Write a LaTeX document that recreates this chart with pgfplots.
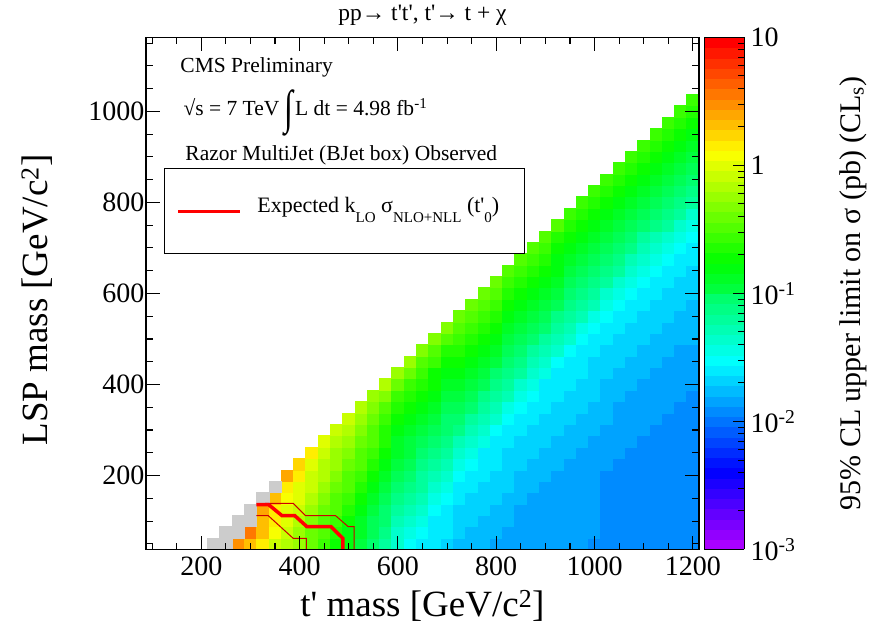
\documentclass[border=0pt]{standalone}
\usepackage{pgfplots}
\pgfplotsset{compat=1.18}
\usepackage{pgfplotstable}
\usepackage{graphicx}
\usepackage{fontspec}
\setmainfont{Liberation Serif}[Ligatures=TeXOff]

% one 25 GeV x 25 GeV bin of the scan
\pgfdeclareplotmark{cell}{%
  \pgfpathrectangle{\pgfpoint{-6.145bp}{-5.69bp}}{\pgfpoint{12.29bp}{11.38bp}}%
  \pgfusepathqfillstroke}

\newcommand\rsub[1]{\raisebox{-0.42em}{\fontsize{15bp}{15bp}\selectfont #1}}
\newcommand\bigint{\raisebox{-0.36em}{\scalebox{1.5}[2.2]{\textbf{∫}}}}

% rainbow palette, 50 discrete levels
\pgfplotsset{colormap={rootpal}{rgb255(0cm)=(170,0,255) rgb255(2cm)=(0,0,255)
  rgb255(5cm)=(0,255,255) rgb255(8cm)=(0,255,0) rgb255(11cm)=(255,255,0)
  rgb255(14cm)=(255,0,0)}}
\pgfplotsset{colormap={rootpalfifty}{samples of colormap=(51 of rootpal)}}

% observed 95% CL upper limit, log10(sigma/pb), per (t' mass, LSP mass) bin
\pgfplotstableread{
mt mlsp lg
275 50 0.52
300 50 0.35
300 75 0.55
325 50 0.15
325 75 0.30
325 100 0.35
325 125 0.38
350 50 -0.03
350 75 0.13
350 100 0.20
350 125 0.15
350 150 0.32
375 50 -0.15
375 75 -0.03
375 100 0.02
375 125 0.04
375 150 0.08
375 175 0.14
375 200 0.41
400 50 -0.25
400 75 -0.18
400 100 -0.11
400 125 -0.06
400 150 -0.01
400 175 0.04
400 200 0.14
400 225 0.25
425 50 -0.40
425 75 -0.34
425 100 -0.27
425 125 -0.21
425 150 -0.16
425 175 -0.09
425 200 -0.03
425 225 0.04
425 250 0.14
450 50 -0.54
450 75 -0.48
450 100 -0.42
450 125 -0.36
450 150 -0.29
450 175 -0.22
450 200 -0.17
450 225 -0.11
450 250 -0.04
450 275 0.04
475 50 -0.66
475 75 -0.60
475 100 -0.54
475 125 -0.48
475 150 -0.43
475 175 -0.36
475 200 -0.30
475 225 -0.23
475 250 -0.18
475 275 -0.11
475 300 -0.03
500 50 -0.78
500 75 -0.73
500 100 -0.67
500 125 -0.60
500 150 -0.54
500 175 -0.47
500 200 -0.42
500 225 -0.35
500 250 -0.29
500 275 -0.22
500 300 -0.16
500 325 -0.08
525 50 -0.93
525 75 -0.87
525 100 -0.81
525 125 -0.74
525 150 -0.69
525 175 -0.62
525 200 -0.55
525 225 -0.49
525 250 -0.43
525 275 -0.37
525 300 -0.30
525 325 -0.23
525 350 -0.15
550 50 -1.07
550 75 -1.02
550 100 -0.97
550 125 -0.90
550 150 -0.83
550 175 -0.76
550 200 -0.70
550 225 -0.63
550 250 -0.56
550 275 -0.49
550 300 -0.43
550 325 -0.37
550 350 -0.29
550 375 -0.21
575 50 -1.25
575 75 -1.18
575 100 -1.11
575 125 -1.04
575 150 -0.98
575 175 -0.91
575 200 -0.84
575 225 -0.77
575 250 -0.71
575 275 -0.64
575 300 -0.57
575 325 -0.50
575 350 -0.42
575 375 -0.30
575 400 -0.16
600 50 -1.43
600 75 -1.36
600 100 -1.29
600 125 -1.23
600 150 -1.16
600 175 -1.08
600 200 -1.01
600 225 -0.95
600 250 -0.88
600 275 -0.81
600 300 -0.74
600 325 -0.67
600 350 -0.60
600 375 -0.51
600 400 -0.40
600 425 -0.25
625 50 -1.53
625 75 -1.46
625 100 -1.38
625 125 -1.31
625 150 -1.25
625 175 -1.17
625 200 -1.10
625 225 -1.03
625 250 -0.96
625 275 -0.89
625 300 -0.81
625 325 -0.74
625 350 -0.67
625 375 -0.60
625 400 -0.51
625 425 -0.40
625 450 -0.25
650 50 -1.61
650 75 -1.56
650 100 -1.49
650 125 -1.41
650 150 -1.34
650 175 -1.27
650 200 -1.20
650 225 -1.13
650 250 -1.05
650 275 -0.98
650 300 -0.91
650 325 -0.84
650 350 -0.76
650 375 -0.69
650 400 -0.62
650 425 -0.53
650 450 -0.42
650 475 -0.27
675 50 -1.64
675 75 -1.62
675 100 -1.59
675 125 -1.52
675 150 -1.44
675 175 -1.37
675 200 -1.30
675 225 -1.23
675 250 -1.15
675 275 -1.08
675 300 -1.01
675 325 -0.94
675 350 -0.87
675 375 -0.79
675 400 -0.72
675 425 -0.65
675 450 -0.56
675 475 -0.45
675 500 -0.30
700 50 -1.67
700 75 -1.65
700 100 -1.63
700 125 -1.61
700 150 -1.55
700 175 -1.47
700 200 -1.40
700 225 -1.33
700 250 -1.26
700 275 -1.18
700 300 -1.11
700 325 -1.04
700 350 -0.97
700 375 -0.89
700 400 -0.82
700 425 -0.75
700 450 -0.68
700 475 -0.59
700 500 -0.47
700 525 -0.33
725 50 -1.75
725 75 -1.72
725 100 -1.70
725 125 -1.67
725 150 -1.64
725 175 -1.62
725 200 -1.56
725 225 -1.47
725 250 -1.37
725 275 -1.28
725 300 -1.18
725 325 -1.08
725 350 -0.99
725 375 -0.89
725 400 -0.81
725 425 -0.74
725 450 -0.66
725 475 -0.58
725 500 -0.50
725 525 -0.43
725 550 -0.35
750 50 -1.78
750 75 -1.75
750 100 -1.73
750 125 -1.70
750 150 -1.68
750 175 -1.65
750 200 -1.62
750 225 -1.58
750 250 -1.49
750 275 -1.39
750 300 -1.29
750 325 -1.20
750 350 -1.10
750 375 -1.01
750 400 -0.91
750 425 -0.83
750 450 -0.75
750 475 -0.68
750 500 -0.60
750 525 -0.52
750 550 -0.45
750 575 -0.37
775 50 -1.81
775 75 -1.79
775 100 -1.76
775 125 -1.73
775 150 -1.71
775 175 -1.68
775 200 -1.66
775 225 -1.63
775 250 -1.60
775 275 -1.51
775 300 -1.41
775 325 -1.31
775 350 -1.22
775 375 -1.12
775 400 -1.02
775 425 -0.93
775 450 -0.85
775 475 -0.77
775 500 -0.70
775 525 -0.62
775 550 -0.54
775 575 -0.47
775 600 -0.39
800 50 -1.84
800 75 -1.82
800 100 -1.79
800 125 -1.77
800 150 -1.74
800 175 -1.71
800 200 -1.69
800 225 -1.66
800 250 -1.64
800 275 -1.61
800 300 -1.52
800 325 -1.43
800 350 -1.33
800 375 -1.24
800 400 -1.14
800 425 -1.04
800 450 -0.95
800 475 -0.87
800 500 -0.79
800 525 -0.72
800 550 -0.64
800 575 -0.56
800 600 -0.48
800 625 -0.41
825 50 -1.87
825 75 -1.85
825 100 -1.82
825 125 -1.80
825 150 -1.77
825 175 -1.74
825 200 -1.72
825 225 -1.69
825 250 -1.67
825 275 -1.64
825 300 -1.61
825 325 -1.54
825 350 -1.45
825 375 -1.35
825 400 -1.26
825 425 -1.16
825 450 -1.06
825 475 -0.97
825 500 -0.89
825 525 -0.81
825 550 -0.74
825 575 -0.66
825 600 -0.58
825 625 -0.50
825 650 -0.43
850 50 -1.89
850 75 -1.88
850 100 -1.85
850 125 -1.83
850 150 -1.80
850 175 -1.78
850 200 -1.75
850 225 -1.72
850 250 -1.70
850 275 -1.67
850 300 -1.65
850 325 -1.62
850 350 -1.56
850 375 -1.47
850 400 -1.37
850 425 -1.27
850 450 -1.18
850 475 -1.08
850 500 -0.99
850 525 -0.91
850 550 -0.83
850 575 -0.75
850 600 -0.68
850 625 -0.60
850 650 -0.52
850 675 -0.45
875 50 -1.89
875 75 -1.89
875 100 -1.89
875 125 -1.86
875 150 -1.83
875 175 -1.81
875 200 -1.78
875 225 -1.75
875 250 -1.73
875 275 -1.70
875 300 -1.68
875 325 -1.65
875 350 -1.62
875 375 -1.58
875 400 -1.49
875 425 -1.39
875 450 -1.29
875 475 -1.20
875 500 -1.10
875 525 -1.01
875 550 -0.93
875 575 -0.85
875 600 -0.77
875 625 -0.70
875 650 -0.62
875 675 -0.54
875 700 -0.47
900 50 -1.89
900 75 -1.89
900 100 -1.89
900 125 -1.89
900 150 -1.86
900 175 -1.84
900 200 -1.81
900 225 -1.78
900 250 -1.76
900 275 -1.73
900 300 -1.70
900 325 -1.68
900 350 -1.65
900 375 -1.63
900 400 -1.59
900 425 -1.50
900 450 -1.40
900 475 -1.30
900 500 -1.21
900 525 -1.11
900 550 -1.02
900 575 -0.94
900 600 -0.86
900 625 -0.78
900 650 -0.71
900 675 -0.63
900 700 -0.55
900 725 -0.48
925 50 -1.89
925 75 -1.89
925 100 -1.89
925 125 -1.89
925 150 -1.89
925 175 -1.87
925 200 -1.84
925 225 -1.81
925 250 -1.79
925 275 -1.76
925 300 -1.74
925 325 -1.71
925 350 -1.68
925 375 -1.66
925 400 -1.63
925 425 -1.61
925 450 -1.52
925 475 -1.42
925 500 -1.32
925 525 -1.23
925 550 -1.13
925 575 -1.03
925 600 -0.96
925 625 -0.88
925 650 -0.80
925 675 -0.73
925 700 -0.65
925 725 -0.57
925 750 -0.49
950 50 -1.89
950 75 -1.89
950 100 -1.89
950 125 -1.89
950 150 -1.89
950 175 -1.89
950 200 -1.87
950 225 -1.84
950 250 -1.82
950 275 -1.79
950 300 -1.76
950 325 -1.74
950 350 -1.71
950 375 -1.69
950 400 -1.66
950 425 -1.63
950 450 -1.61
950 475 -1.53
950 500 -1.43
950 525 -1.33
950 550 -1.24
950 575 -1.14
950 600 -1.04
950 625 -0.97
950 650 -0.89
950 675 -0.81
950 700 -0.74
950 725 -0.66
950 750 -0.58
950 775 -0.50
975 50 -1.89
975 75 -1.89
975 100 -1.89
975 125 -1.89
975 150 -1.89
975 175 -1.89
975 200 -1.89
975 225 -1.87
975 250 -1.85
975 275 -1.82
975 300 -1.79
975 325 -1.77
975 350 -1.74
975 375 -1.72
975 400 -1.69
975 425 -1.66
975 450 -1.64
975 475 -1.61
975 500 -1.54
975 525 -1.44
975 550 -1.34
975 575 -1.25
975 600 -1.15
975 625 -1.05
975 650 -0.98
975 675 -0.90
975 700 -0.82
975 725 -0.74
975 750 -0.67
975 775 -0.59
975 800 -0.51
1000 50 -1.97
1000 75 -1.89
1000 100 -1.89
1000 125 -1.89
1000 150 -1.89
1000 175 -1.89
1000 200 -1.89
1000 225 -1.89
1000 250 -1.87
1000 275 -1.85
1000 300 -1.82
1000 325 -1.80
1000 350 -1.77
1000 375 -1.74
1000 400 -1.72
1000 425 -1.69
1000 450 -1.67
1000 475 -1.64
1000 500 -1.61
1000 525 -1.55
1000 550 -1.45
1000 575 -1.35
1000 600 -1.26
1000 625 -1.16
1000 650 -1.06
1000 675 -0.99
1000 700 -0.91
1000 725 -0.83
1000 750 -0.75
1000 775 -0.68
1000 800 -0.60
1000 825 -0.52
1025 50 -1.97
1025 75 -1.97
1025 100 -1.97
1025 125 -1.97
1025 150 -1.97
1025 175 -1.97
1025 200 -1.97
1025 225 -1.89
1025 250 -1.89
1025 275 -1.88
1025 300 -1.85
1025 325 -1.82
1025 350 -1.80
1025 375 -1.77
1025 400 -1.75
1025 425 -1.72
1025 450 -1.69
1025 475 -1.67
1025 500 -1.64
1025 525 -1.62
1025 550 -1.56
1025 575 -1.46
1025 600 -1.36
1025 625 -1.27
1025 650 -1.17
1025 675 -1.07
1025 700 -1.00
1025 725 -0.92
1025 750 -0.84
1025 775 -0.76
1025 800 -0.69
1025 825 -0.61
1025 850 -0.53
1050 50 -1.97
1050 75 -1.97
1050 100 -1.97
1050 125 -1.97
1050 150 -1.97
1050 175 -1.97
1050 200 -1.97
1050 225 -1.97
1050 250 -1.89
1050 275 -1.89
1050 300 -1.88
1050 325 -1.85
1050 350 -1.83
1050 375 -1.80
1050 400 -1.78
1050 425 -1.75
1050 450 -1.72
1050 475 -1.70
1050 500 -1.67
1050 525 -1.65
1050 550 -1.62
1050 575 -1.56
1050 600 -1.47
1050 625 -1.37
1050 650 -1.27
1050 675 -1.18
1050 700 -1.08
1050 725 -1.00
1050 750 -0.93
1050 775 -0.85
1050 800 -0.77
1050 825 -0.70
1050 850 -0.62
1050 875 -0.54
1075 50 -1.97
1075 75 -1.97
1075 100 -1.97
1075 125 -1.97
1075 150 -1.97
1075 175 -1.97
1075 200 -1.97
1075 225 -1.97
1075 250 -1.97
1075 275 -1.89
1075 300 -1.89
1075 325 -1.88
1075 350 -1.86
1075 375 -1.83
1075 400 -1.80
1075 425 -1.78
1075 450 -1.75
1075 475 -1.73
1075 500 -1.70
1075 525 -1.67
1075 550 -1.65
1075 575 -1.62
1075 600 -1.57
1075 625 -1.48
1075 650 -1.38
1075 675 -1.28
1075 700 -1.19
1075 725 -1.09
1075 750 -1.01
1075 775 -0.94
1075 800 -0.86
1075 825 -0.78
1075 850 -0.71
1075 875 -0.63
1075 900 -0.55
1100 50 -1.97
1100 75 -1.97
1100 100 -1.97
1100 125 -1.97
1100 150 -1.97
1100 175 -1.97
1100 200 -1.97
1100 225 -1.97
1100 250 -1.97
1100 275 -1.97
1100 300 -1.89
1100 325 -1.89
1100 350 -1.89
1100 375 -1.86
1100 400 -1.83
1100 425 -1.81
1100 450 -1.78
1100 475 -1.76
1100 500 -1.73
1100 525 -1.70
1100 550 -1.68
1100 575 -1.65
1100 600 -1.62
1100 625 -1.58
1100 650 -1.49
1100 675 -1.39
1100 700 -1.29
1100 725 -1.20
1100 750 -1.10
1100 775 -1.02
1100 800 -0.95
1100 825 -0.87
1100 850 -0.79
1100 875 -0.72
1100 900 -0.64
1100 925 -0.56
1125 50 -1.97
1125 75 -1.97
1125 100 -1.97
1125 125 -1.97
1125 150 -1.97
1125 175 -1.97
1125 200 -1.97
1125 225 -1.97
1125 250 -1.97
1125 275 -1.97
1125 300 -1.97
1125 325 -1.89
1125 350 -1.89
1125 375 -1.88
1125 400 -1.86
1125 425 -1.83
1125 450 -1.80
1125 475 -1.78
1125 500 -1.75
1125 525 -1.73
1125 550 -1.70
1125 575 -1.67
1125 600 -1.65
1125 625 -1.62
1125 650 -1.57
1125 675 -1.48
1125 700 -1.38
1125 725 -1.28
1125 750 -1.19
1125 775 -1.09
1125 800 -1.01
1125 825 -0.94
1125 850 -0.86
1125 875 -0.78
1125 900 -0.71
1125 925 -0.63
1125 950 -0.55
1150 50 -1.97
1150 75 -1.97
1150 100 -1.97
1150 125 -1.97
1150 150 -1.97
1150 175 -1.97
1150 200 -1.97
1150 225 -1.97
1150 250 -1.97
1150 275 -1.97
1150 300 -1.97
1150 325 -1.97
1150 350 -1.89
1150 375 -1.89
1150 400 -1.88
1150 425 -1.85
1150 450 -1.83
1150 475 -1.80
1150 500 -1.78
1150 525 -1.75
1150 550 -1.72
1150 575 -1.70
1150 600 -1.67
1150 625 -1.65
1150 650 -1.62
1150 675 -1.56
1150 700 -1.47
1150 725 -1.37
1150 750 -1.27
1150 775 -1.18
1150 800 -1.08
1150 825 -1.00
1150 850 -0.93
1150 875 -0.85
1150 900 -0.77
1150 925 -0.70
1150 950 -0.62
1150 975 -0.54
1175 50 -1.97
1175 75 -1.97
1175 100 -1.97
1175 125 -1.97
1175 150 -1.97
1175 175 -1.97
1175 200 -1.97
1175 225 -1.97
1175 250 -1.97
1175 275 -1.97
1175 300 -1.97
1175 325 -1.97
1175 350 -1.97
1175 375 -1.89
1175 400 -1.89
1175 425 -1.88
1175 450 -1.85
1175 475 -1.83
1175 500 -1.80
1175 525 -1.78
1175 550 -1.75
1175 575 -1.72
1175 600 -1.70
1175 625 -1.67
1175 650 -1.65
1175 675 -1.62
1175 700 -1.56
1175 725 -1.47
1175 750 -1.37
1175 775 -1.27
1175 800 -1.18
1175 825 -1.08
1175 850 -1.00
1175 875 -0.93
1175 900 -0.85
1175 925 -0.77
1175 950 -0.70
1175 975 -0.62
1175 1000 -0.54
1200 50 -1.97
1200 75 -1.97
1200 100 -1.97
1200 125 -1.97
1200 150 -1.97
1200 175 -1.97
1200 200 -1.97
1200 225 -1.97
1200 250 -1.97
1200 275 -1.97
1200 300 -1.97
1200 325 -1.97
1200 350 -1.97
1200 375 -1.97
1200 400 -1.89
1200 425 -1.89
1200 450 -1.88
1200 475 -1.85
1200 500 -1.82
1200 525 -1.80
1200 550 -1.77
1200 575 -1.75
1200 600 -1.72
1200 625 -1.69
1200 650 -1.67
1200 675 -1.64
1200 700 -1.62
1200 725 -1.56
1200 750 -1.46
1200 775 -1.36
1200 800 -1.27
1200 825 -1.17
1200 850 -1.07
1200 875 -1.00
1200 900 -0.92
1200 925 -0.84
1200 950 -0.76
1200 975 -0.69
1200 1000 -0.61
1200 1025 -0.53
}\limittab

\begin{document}
\begin{tikzpicture}
\useasboundingbox (-146bp,-83.5bp) rectangle (729bp,549.5bp);
\begin{axis}[
  at={(0,0)}, anchor=south west,
  scale only axis, width=553bp, height=512.1bp,
  xmin=87.5, xmax=1212.5, ymin=37.5, ymax=1162.5,
  clip=false, clip marker paths=true, axis on top,
  colormap name=rootpalfifty,
  colormap access=piecewise constant,
  point meta min=-3, point meta max=1,
  xtick={200,400,...,1200},
  ytick={200,400,...,1000},
  minor xtick={100,150,...,1200},
  minor ytick={50,100,...,1150},
  tick align=inside,
  major tick length=14bp, minor tick length=7bp,
  tick style={black, line width=1.1bp},
  axis line style={line width=1.5bp},
  /pgf/number format/assume math mode=true,
  /pgf/number format/1000 sep={},
  tick label style={font=\fontsize{28bp}{30bp}\selectfont},
  xticklabel style={yshift=-4bp},
  yticklabel style={xshift=2bp},
  label style={font=\fontsize{37bp}{40bp}\selectfont},
  xlabel={t' mass [GeV/c\textsuperscript{2}]},
  ylabel={LSP mass [GeV/c\textsuperscript{2}]},
  xlabel style={at={(axis description cs:0.5,-0.11)}, anchor=center},
  ylabel style={at={(axis description cs:-0.197,0.487)}, anchor=center},
  colorbar sampled,
  colorbar style={
    at={(parent axis.north east)}, anchor=north west, xshift=-3.5bp,
    scale only axis, width=40bp, height=512.1bp,
    samples=51,
    ytick={-3,-2,-1,0,1},
    yticklabels={{10\textsuperscript{-3}},{10\textsuperscript{-2}},{10\textsuperscript{-1}},{1},{10}},
    minor ytick={-2.699,-2.523,-2.398,-2.301,-2.222,-2.155,-2.097,-2.046,
                 -1.699,-1.523,-1.398,-1.301,-1.222,-1.155,-1.097,-1.046,
                 -0.699,-0.523,-0.398,-0.301,-0.222,-0.155,-0.097,-0.046,
                 0.301,0.477,0.602,0.699,0.778,0.845,0.903,0.954},
    ytick pos=right, tick align=inside,
    major tick length=11bp, minor tick length=6bp,
    tick style={black, line width=1bp},
    axis line style={line width=1bp},
    yticklabel style={font=\fontsize{28bp}{30bp}\selectfont, xshift=3bp},
    ylabel={95\% CL upper limit on σ (pb) (CL\textsubscript{s})},
    ylabel style={font=\fontsize{30bp}{32bp}\selectfont,
      at={(axis description cs:3.72,0.5)}, anchor=center},
  },
]
% limit map
\addplot[scatter, only marks, mark=cell, point meta=explicit,
  scatter/use mapped color={draw=mapped color, fill=mapped color},
  mark options={line width=0.6bp}]
  table[x=mt, y=mlsp, meta=lg] {\limittab};
% bins beyond the colour range
\addplot[only marks, mark=cell, mark options={draw=gray!40, fill=gray!40, line width=0.6bp}]
  coordinates {(225,50) (250,50) (250,75) (275,75) (275,100) (300,100) (300,125) (325,150) (350,175)};
% expected exclusion and its +-1 sigma band edges
\addplot[no markers, red!80!black, line width=1bp]
  coordinates {(330,139) (387,139) (412,112) (473,112) (499,87.5) (511,87.5) (511,37.5)};
\addplot[no markers, red!80!black, line width=1bp]
  coordinates {(312,112) (336,112) (387,62) (414,62) (414,37.5)};
\addplot[no markers, red, line width=3.5bp]
  coordinates {(312,136) (337,136) (364,112) (390,112) (415,87.5) (464,87.5) (488,62) (488,37.5)};

% labels
\node[font=\fontsize{23.5bp}{25bp}\selectfont] at (rel axis cs:0.5,1.044) {pp→ t't', t'→ t + χ};
\node[anchor=west, font=\fontsize{21.5bp}{23bp}\selectfont] at (rel axis cs:0.056,0.942) {CMS Preliminary};
\node[anchor=west, font=\fontsize{21.5bp}{23bp}\selectfont] at (rel axis cs:0.0615,0.852)
  {√s = 7 TeV \bigint L dt = 4.98 fb\textsuperscript{-1}};
\node[anchor=west, font=\fontsize{21.5bp}{23bp}\selectfont] at (rel axis cs:0.065,0.770)
  {Razor MultiJet (BJet box) Observed};
\draw[black, line width=0.8bp, fill=white] (rel axis cs:0.0325,0.745) rectangle (rel axis cs:0.6835,0.579);
\draw[red, line width=3bp] (rel axis cs:0.0579,0.661) -- (rel axis cs:0.170,0.661);
\node[anchor=west, font=\fontsize{22bp}{24bp}\selectfont] at (rel axis cs:0.195,0.663)
  {Expected k\rsub{LO} σ\rsub{NLO+NLL} (t'\rsub{0})};
\end{axis}
\end{tikzpicture}
\end{document}
